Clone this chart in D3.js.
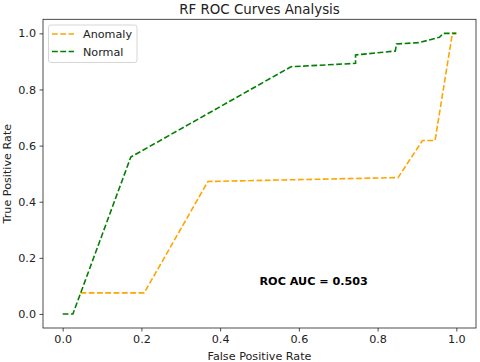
<!DOCTYPE html>
<html><head><meta charset="utf-8">
<script src="https://cdn.jsdelivr.net/npm/d3@7"></script>
<style>body{margin:0;background:#fff}svg{display:block}text{font-family:"DejaVu Sans",sans-serif}</style>
</head><body><svg id="c" width="480" height="362"></svg>
<script>
const title = "RF ROC Curves Analysis";
const xLabel = "False Positive Rate";
const yLabel = "True Positive Rate";
const annotation = "ROC AUC = 0.503";
const seriesNames = ["Anomaly", "Normal"];
const seriesColors = ["#FFA500", "#008000"];
const anomalyFpr = [0.045, 0.207, 0.369, 0.852, 0.914, 0.946, 0.99, 1.0];
const anomalyTpr = [0.075, 0.075, 0.472, 0.486, 0.618, 0.618, 1.0, 1.0];
const normalFpr = [0.0, 0.026, 0.173, 0.58, 0.744, 0.744, 0.845, 0.848, 0.906, 0.957, 0.967, 1.0];
const normalTpr = [0.0, 0.0, 0.559, 0.881, 0.893, 0.923, 0.937, 0.962, 0.967, 0.986, 1.0, 1.0];
const xTicks = [0, 0.2, 0.4, 0.6, 0.8, 1.0];
const yTicks = [0, 0.2, 0.4, 0.6, 0.8, 1.0];

const svg = d3.select("#c");
const L = 43, R = 476, T = 19.3, B = 328;
const x = d3.scaleLinear().domain([-0.05, 1.05]).range([L, R]);
const y = d3.scaleLinear().domain([-0.05, 1.05]).range([B, T]);
const FS = "11.2px";

const fmt = d3.format(".1f");
svg.append("g").attr("transform", `translate(0,${B})`)
  .call(d3.axisBottom(x).tickValues(xTicks).tickFormat(fmt).tickSize(3.5).tickPadding(3.5))
  .call(g => g.select(".domain").remove())
  .call(g => g.selectAll("line").attr("stroke", "#222").attr("stroke-width", 0.8))
  .call(g => g.selectAll("text").attr("font-size", FS).attr("fill", "#222").attr("font-family", "DejaVu Sans"));
svg.append("g").attr("transform", `translate(${L},0)`)
  .call(d3.axisLeft(y).tickValues(yTicks).tickFormat(fmt).tickSize(3.5).tickPadding(3.5))
  .call(g => g.select(".domain").remove())
  .call(g => g.selectAll("line").attr("stroke", "#222").attr("stroke-width", 0.8))
  .call(g => g.selectAll("text").attr("font-size", FS).attr("fill", "#222").attr("font-family", "DejaVu Sans"));

const line = d3.line().x(d => x(d[0])).y(d => y(d[1]));
const series = [
  anomalyFpr.map((v, i) => [v, anomalyTpr[i]]),
  normalFpr.map((v, i) => [v, normalTpr[i]])
];
series.forEach((s, i) => {
  svg.append("path").datum(s).attr("d", line).attr("fill", "none")
    .attr("stroke", seriesColors[i]).attr("stroke-width", 1.6)
    .attr("stroke-dasharray", "5.8,2.5");
});

svg.append("rect").attr("x", L).attr("y", T).attr("width", R - L).attr("height", B - T)
  .attr("fill", "none").attr("stroke", "#222").attr("stroke-width", 0.8);

svg.append("text").attr("x", x(0.5)).attr("y", y(0.1) - 1)
  .attr("font-size", FS).attr("font-weight", "bold").attr("fill", "#000")
  .text(annotation);

svg.append("text").attr("x", (L + R) / 2).attr("y", 13.5).attr("text-anchor", "middle")
  .attr("font-size", "13.4px").attr("fill", "#222").text(title);
svg.append("text").attr("x", (L + R) / 2).attr("y", 359.5).attr("text-anchor", "middle")
  .attr("font-size", FS).attr("fill", "#222").text(xLabel);
svg.append("text").attr("transform", `translate(10.5,${(T + B) / 2}) rotate(-90)`).attr("text-anchor", "middle")
  .attr("font-size", FS).attr("fill", "#222").text(yLabel);

const lg = svg.append("g");
lg.append("rect").attr("x", 48.5).attr("y", 25).attr("width", 88.5).attr("height", 37.5).attr("rx", 2.5)
  .attr("fill", "#fff").attr("fill-opacity", 0.8).attr("stroke", "#ccc").attr("stroke-width", 0.8);
seriesNames.forEach((n, i) => {
  const yy = 34 + i * 17.5;
  lg.append("line").attr("x1", 52).attr("x2", 74).attr("y1", yy).attr("y2", yy)
    .attr("stroke", seriesColors[i]).attr("stroke-width", 1.6).attr("stroke-dasharray", "5.8,2.5");
  lg.append("text").attr("x", 83).attr("y", yy + 4).attr("font-size", FS).attr("fill", "#222").text(n);
});
</script></body></html>
